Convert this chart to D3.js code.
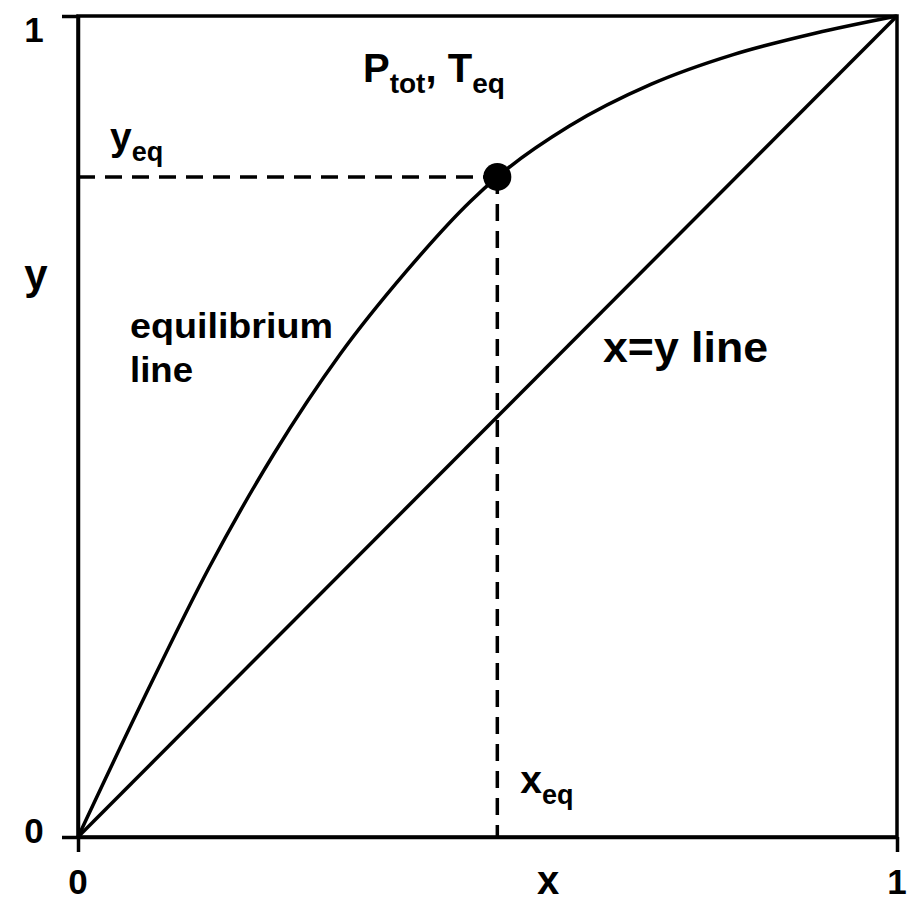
<!DOCTYPE html>
<meta charset="utf-8">
<head>
    <meta charset="utf-8">
    <title>x-y equilibrium diagram</title>
    <script type="text/javascript" src="https://d3js.org/d3.v7.min.js"></script>
</head>

<style type="text/css">
    body {
        margin: 0;
        background-color: #ffffff;
    }

    svg text {
        font-family: "Liberation Sans", Arial, Helvetica, sans-serif;
        font-weight: bold;
        fill: #000000;
    }

    .axis path,
    .axis line {
        stroke: #000000;
        stroke-width: 3.5px;
    }
</style>

<body>
    <div id="my_dataviz"></div>

    <script>

        // axis ticks (only the two ends are labelled)
        const tickValues = [0, 1]
        const tickLabels = ["0", "1"]

        // equilibrium curve (mole fraction x, y)
        const eqX = [0, 0.08, 0.16, 0.24, 0.32, 0.40, 0.48, 0.512, 0.60, 0.70, 0.80, 0.90, 1]
        const eqY = [0, 0.168, 0.328, 0.468, 0.588, 0.688, 0.775, 0.804, 0.866, 0.917, 0.953, 0.979, 1]

        // x = y line
        const diagX = [0, 1]
        const diagY = [0, 1]

        // equilibrium point
        const xEq = 0.512
        const yEq = 0.804

        // set dimensions and margins of graph
        const margin = { top: 16, right: 11, bottom: 66, left: 78 },
            width = 908 - margin.left - margin.right,
            height = 903 - margin.top - margin.bottom;

        const svg = d3.select("#my_dataviz")
            .append("svg")
            .attr("width", width + margin.left + margin.right)
            .attr("height", height + margin.top + margin.bottom)
            .append("g")
            .attr("transform", `translate(${margin.left},${margin.top})`);

        const x = d3.scaleLinear().domain([0, 1]).range([0, width]);
        const y = d3.scaleLinear().domain([0, 1]).range([height, 0]);

        // frame: top and right sides
        svg.append("rect")
            .attr("x", x(0))
            .attr("y", y(1))
            .attr("width", x(1) - x(0))
            .attr("height", y(0) - y(1))
            .attr("fill", "none")
            .attr("stroke", "black")
            .attr("stroke-width", 3.5)

        // axes with only tick marks, labels placed by hand below
        svg.append("g")
            .attr("class", "axis")
            .attr("transform", `translate(0, ${height})`)
            .call(d3.axisBottom(x).tickValues(tickValues).tickSize(15).tickSizeOuter(0).tickFormat(""))
        svg.append("g")
            .attr("class", "axis")
            .call(d3.axisLeft(y).tickValues(tickValues).tickSize(16).tickSizeOuter(0).tickFormat(""))

        // tick labels
        svg.selectAll(".xlab")
            .data(tickValues)
            .join("text")
            .attr("class", "xlab")
            .attr("x", d => x(d))
            .attr("y", height + 57)
            .attr("text-anchor", "middle")
            .style("font-size", "35px")
            .text((d, i) => tickLabels[i])

        svg.selectAll(".ylab")
            .data(tickValues)
            .join("text")
            .attr("class", "ylab")
            .attr("x", -44)
            .attr("y", d => y(d) + (d === 1 ? 26 : 6))
            .attr("text-anchor", "middle")
            .style("font-size", "35px")
            .text((d, i) => tickLabels[i])

        // axis titles
        svg.append("text")
            .attr("x", x(0.574))
            .attr("y", height + 57)
            .attr("text-anchor", "middle")
            .style("font-size", "40px")
            .text("x")
        svg.append("text")
            .attr("x", -42)
            .attr("y", y(0.667))
            .attr("text-anchor", "middle")
            .style("font-size", "42px")
            .text("y")

        // lines
        const line = d3.line()
            .x(d => x(d[0]))
            .y(d => y(d[1]))

        svg.append("path")
            .datum(d3.zip(diagX, diagY))
            .attr("fill", "none")
            .attr("stroke", "black")
            .attr("stroke-width", 3.5)
            .attr("d", line)

        svg.append("path")
            .datum(d3.zip(eqX, eqY))
            .attr("fill", "none")
            .attr("stroke", "black")
            .attr("stroke-width", 3.5)
            .attr("d", line.curve(d3.curveMonotoneX))

        // dashed guides to the equilibrium point
        svg.append("line")
            .attr("x1", x(0)).attr("y1", y(yEq))
            .attr("x2", x(xEq)).attr("y2", y(yEq))
            .attr("stroke", "black")
            .attr("stroke-width", 3.5)
            .attr("stroke-dasharray", "17,10")
        svg.append("line")
            .attr("x1", x(xEq)).attr("y1", y(yEq))
            .attr("x2", x(xEq)).attr("y2", y(0))
            .attr("stroke", "black")
            .attr("stroke-width", 3.5)
            .attr("stroke-dasharray", "17,10")

        svg.append("circle")
            .attr("cx", x(xEq))
            .attr("cy", y(yEq))
            .attr("r", 14)
            .attr("fill", "black")

        // annotations
        const sub = function (sel, main, subText, size) {
            sel.append("tspan").style("font-size", size + "px").text(main)
            sel.append("tspan").style("font-size", Math.round(size * 0.7) + "px").attr("dy", size * 0.28).text(subText)
        }

        const yeqLabel = svg.append("text").attr("x", 32).attr("y", y(yEq) - 27)
        sub(yeqLabel, "y", "eq", 39)

        const xeqLabel = svg.append("text").attr("x", x(xEq) + 23).attr("y", height - 44)
        sub(xeqLabel, "x", "eq", 39)

        const pt = svg.append("text").attr("x", 285).attr("y", 66)
        pt.append("tspan").style("font-size", "40px").text("P")
        pt.append("tspan").style("font-size", "28px").attr("dy", 11).text("tot")
        pt.append("tspan").style("font-size", "40px").attr("dy", -11).text(", T")
        pt.append("tspan").style("font-size", "28px").attr("dy", 11).text("eq")

        svg.append("text")
            .attr("x", 52).attr("y", 322)
            .attr("textLength", 203)
            .attr("lengthAdjust", "spacingAndGlyphs")
            .style("font-size", "35px")
            .text("equilibrium")
        svg.append("text")
            .attr("x", 52).attr("y", 366)
            .attr("textLength", 63)
            .attr("lengthAdjust", "spacingAndGlyphs")
            .style("font-size", "35px")
            .text("line")

        svg.append("text")
            .attr("x", 525).attr("y", 346)
            .attr("textLength", 165)
            .attr("lengthAdjust", "spacingAndGlyphs")
            .style("font-size", "43px")
            .text("x=y line")

    </script>
</body>
</html>
